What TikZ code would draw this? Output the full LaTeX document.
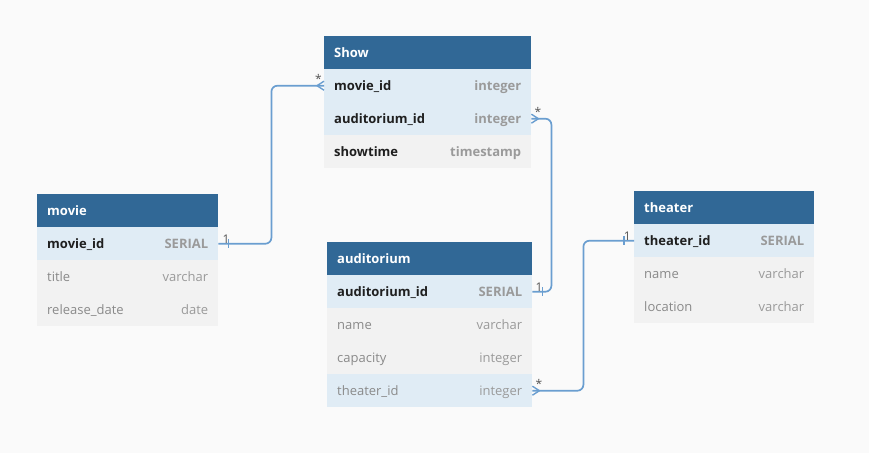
\documentclass[tikz,border=0pt]{standalone}
\usepackage{fontspec}
\setmainfont{Open Sans}
\definecolor{bgc}{HTML}{FAFAFA}
\definecolor{hdrc}{HTML}{316896}
\definecolor{rowblue}{HTML}{E0ECF5}
\definecolor{rowgrey}{HTML}{F2F2F2}
\definecolor{connc}{HTML}{6A9ED0}
\definecolor{keytxt}{HTML}{1F1F1F}
\definecolor{typetxt}{HTML}{9A9A9A}
\definecolor{regtxt}{HTML}{8A8A8A}
\definecolor{lbltxt}{HTML}{555555}
\tikzset{
  tbl/.style={draw=none, inner sep=0pt, anchor=north west, minimum height=33pt},
  hdr/.style={tbl, fill=hdrc},
  txt/.style={inner sep=0pt, font=\fontsize{13}{15}\selectfont, text height=9pt, text depth=2.5pt},
  htext/.style={txt, text=white, font=\fontsize{13}{15}\selectfont\bfseries, anchor=west},
  kname/.style={txt, text=keytxt, font=\fontsize{13}{15}\selectfont\bfseries},
  ktype/.style={txt, text=typetxt, font=\fontsize{13}{15}\selectfont\bfseries},
  rname/.style={txt, text=regtxt},
  rtype/.style={txt, text=typetxt},
  conn/.style={draw=connc, line width=1.7pt},
  card/.style={inner sep=0pt, text=lbltxt, font=\fontsize{12}{14}\selectfont},
}
% #1 node name, #2 position, #3 width, #4 fill, #5 name, #6 type, #7 k or r
\newcommand\ERrow[7]{%
  \node[tbl, fill=#4, minimum width=#3] (#1) at #2 {};
  \node[#7name, anchor=west] (#1-n) at ([xshift=10pt,yshift=-1.2pt]#1.west) {#5};
  \node[#7type, anchor=east] (#1-t) at ([xshift=-10pt,yshift=-1.2pt]#1.east) {#6};}
\newcommand\ERhead[5]{%
  \node[hdr, minimum width=#3] (#1) at #2 {};
  \node[htext] (#1-n) at ([xshift=10pt,yshift=-1.2pt]#1.west) {#4};}
\newcommand\crowleft[1]{%
  \draw[conn, line width=1.4pt] ([xshift=-7pt]#1) -- ([yshift=4.5pt]#1) ([xshift=-7pt]#1) -- ([yshift=-4.5pt]#1);}
\newcommand\crowright[1]{%
  \draw[conn, line width=1.4pt] ([xshift=7pt]#1) -- ([yshift=4.5pt]#1) ([xshift=7pt]#1) -- ([yshift=-4.5pt]#1);}
\newcommand\tickat[2]{%
  \draw[conn, line width=1.4pt] ([xshift=#2,yshift=4.5pt]#1) -- ([xshift=#2,yshift=-4.5pt]#1);}
\begin{document}
\begin{tikzpicture}[x=1pt, y=-1pt]
\fill[bgc] (0,0) rectangle (869,453);
\useasboundingbox (0,0) rectangle (869,453);

% Show
\ERhead{show}{(324,36)}{207pt}{Show}{}
\ERrow{showmovie}{(324,69)}{207pt}{rowblue}{movie\_id}{integer}{k}
\ERrow{showaud}{(324,102)}{207pt}{rowblue}{auditorium\_id}{integer}{k}
\ERrow{showtime}{(324,135)}{207pt}{rowgrey}{showtime}{timestamp}{k}

% movie
\ERhead{movie}{(37,194)}{181pt}{movie}{}
\ERrow{movieid}{(37,227)}{181pt}{rowblue}{movie\_id}{SERIAL}{k}
\ERrow{movietitle}{(37,260)}{181pt}{rowgrey}{title}{varchar}{r}
\ERrow{movierel}{(37,293)}{181pt}{rowgrey}{release\_date}{date}{r}

% auditorium
\ERhead{aud}{(327,242)}{205pt}{auditorium}{}
\ERrow{audid}{(327,275)}{205pt}{rowblue}{auditorium\_id}{SERIAL}{k}
\ERrow{audname}{(327,308)}{205pt}{rowgrey}{name}{varchar}{r}
\ERrow{audcap}{(327,341)}{205pt}{rowgrey}{capacity}{integer}{r}
\ERrow{audth}{(327,374)}{205pt}{rowblue}{theater\_id}{integer}{r}

% theater
\ERhead{th}{(634,191)}{180pt}{theater}{}
\ERrow{thid}{(634,224)}{180pt}{rowblue}{theater\_id}{SERIAL}{k}
\ERrow{thname}{(634,257)}{180pt}{rowgrey}{name}{varchar}{r}
\ERrow{thloc}{(634,290)}{180pt}{rowgrey}{location}{varchar}{r}

% connector movie -> Show
\draw[conn, rounded corners=6pt] (movieid.east) -- ++(53,0) |- (showmovie.west);
\tickat{movieid.east}{10pt}
\crowleft{showmovie.west}
\node[card, anchor=south west] (c1a) at ([xshift=4pt,yshift=0pt]movieid.east) {1};
\node[card, anchor=south east] (c1b) at ([xshift=-2pt,yshift=2pt]showmovie.west) {*};

% connector Show.auditorium_id -> auditorium
\draw[conn, rounded corners=6pt] (showaud.east) -- ++(20,0) |- (audid.east);
\crowright{showaud.east}
\tickat{audid.east}{10pt}
\node[card, anchor=south west] (c2a) at ([xshift=3pt,yshift=2pt]showaud.east) {*};
\node[card, anchor=south west] (c2b) at ([xshift=3pt,yshift=0pt]audid.east) {1};

% connector auditorium.theater_id -> theater
\draw[conn, rounded corners=6pt] (audth.east) -- ++(51,0) |- (thid.west);
\crowright{audth.east}
\tickat{thid.west}{-10pt}
\node[card, anchor=south west] (c3a) at ([xshift=3pt,yshift=2pt]audth.east) {*};
\node[card, anchor=south east] (c3b) at ([xshift=-3pt,yshift=0pt]thid.west) {1};
\end{tikzpicture}
\end{document}
